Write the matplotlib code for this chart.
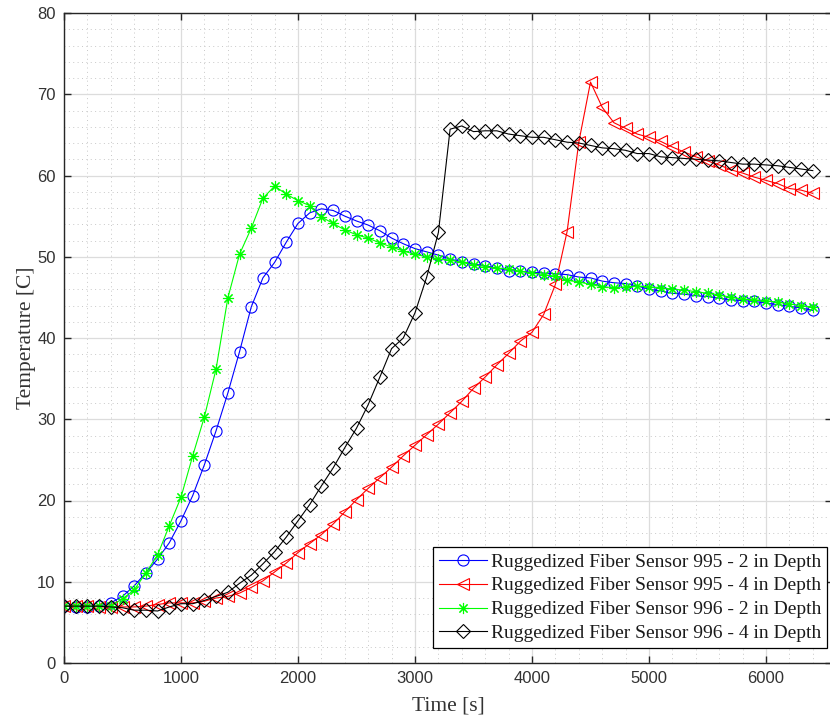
import numpy as np
import matplotlib
matplotlib.use("Agg")
from matplotlib import pyplot as plt
from matplotlib.ticker import MultipleLocator

# sample times, one reading every 100 s
time_s = np.arange(0, 6500, 100)

temp_995_2in = [7.0, 6.9, 6.9, 7.0, 7.4, 8.2, 9.5, 11.1, 12.8, 14.8, 17.5, 20.6, 24.4, 28.6, 33.2,
                38.3, 43.8, 47.4, 49.3, 51.8, 54.1, 55.4,
                55.9, 55.7, 55.0, 54.4, 53.9, 53.2, 52.3, 51.6, 51.0,
                50.6, 50.2, 49.7, 49.4, 49.1, 48.9, 48.6, 48.3, 48.2, 48.1,
                48.0, 47.9, 47.8, 47.5, 47.4, 47.0, 46.8, 46.7, 46.4, 46.0, 45.8, 45.5,
                45.4, 45.2, 45.1, 44.9, 44.7, 44.6, 44.5, 44.3, 44.1, 43.9, 43.7, 43.4]

temp_995_4in = [7.0, 7.0, 7.0, 6.9, 6.9, 6.9, 6.9, 7.0, 7.2, 7.4, 7.4, 7.4, 7.6, 8.0, 8.2,
                8.6, 9.3, 10.1, 11.2, 12.3, 13.6, 14.7, 15.8, 17.1, 18.6, 20.1, 21.5, 22.8,
                24.1, 25.5, 26.8,
                28.1, 29.4, 30.8, 32.2, 33.8, 35.2, 36.7, 38.1, 39.6, 40.7, 42.9, 46.6, 53.1, 64.1,
                71.5, 68.4, 66.5, 65.8, 65.1, 64.7, 64.2, 63.5, 62.9, 62.3, 61.8, 61.3, 60.7,
                60.3, 59.8, 59.4, 59.0, 58.4, 58.2, 57.8]

temp_996_2in = [7.0, 7.0, 7.0, 7.0, 7.0, 7.9, 9.0, 11.1, 13.3, 16.9, 20.4, 25.5, 30.3, 36.2, 44.9,
                50.3, 53.5, 57.2, 58.7, 57.7, 56.9, 56.3,
                54.9, 54.1, 53.3, 52.7, 52.3, 51.7, 51.2, 50.7, 50.3,
                50.0, 49.7, 49.6, 49.3, 49.0, 48.8, 48.6, 48.5, 48.2, 48.0,
                47.8, 47.6, 47.1, 46.9, 46.6, 46.3, 46.2, 46.3, 46.4, 46.3, 46.2, 46.0,
                45.9, 45.7, 45.5, 45.3, 45.0, 44.8, 44.7, 44.6, 44.4, 44.2, 44.0, 43.8]

temp_996_4in = [7.0, 7.0, 7.0, 7.0, 6.9, 6.8, 6.5, 6.5, 6.4, 6.9, 7.3, 7.3, 7.7, 8.2, 8.7,
                9.8, 10.8, 12.2, 13.7, 15.5, 17.5, 19.5, 21.8, 24.0, 26.5, 28.9, 31.8, 35.2,
                38.7, 40.0, 43.1, 47.5, 53.0,
                65.7, 66.1, 65.4, 65.5, 65.5, 65.1, 64.9, 64.7, 64.7, 64.4, 64.1, 64.0, 63.7,
                63.4, 63.3, 63.1, 62.7, 62.7, 62.3, 62.2, 62.1, 62.0, 61.9, 61.8, 61.6, 61.4,
                61.4, 61.3, 61.2, 61.0, 60.8, 60.6]

labels = ["Ruggedized Fiber Sensor 995 - 2 in Depth",
          "Ruggedized Fiber Sensor 995 - 4 in Depth",
          "Ruggedized Fiber Sensor 996 - 2 in Depth",
          "Ruggedized Fiber Sensor 996 - 4 in Depth"]
series = [temp_995_2in, temp_995_4in, temp_996_2in, temp_996_4in]
colors = ["#0000ff", "#ff0000", "#00ff00", "#000000"]
# (8, 2, 0) is an 8-spoke asterisk, like a + and an x laid over each other
markers = ["o", "<", (8, 2, 0), "D"]
msizes = [8, 8.5, 8, 7.2]

fig = plt.figure(figsize=(8.3, 7.21), dpi=100)
ax = fig.add_axes([64/830, 1 - 663/721, (832 - 64)/830, (663 - 13)/721])

for y, lab, c, m, ms in zip(series, labels, colors, markers, msizes):
    ax.plot(time_s, y, color=c, lw=0.8, marker=m, ms=ms, mfc="none",
            mec=c, mew=0.8, label=lab)

ax.set_xlim(0, (832 - 64)/0.117)
ax.set_ylim(0, 80)
ax.xaxis.set_major_locator(MultipleLocator(1000))
ax.xaxis.set_minor_locator(MultipleLocator(200))
ax.yaxis.set_major_locator(MultipleLocator(10))
ax.yaxis.set_minor_locator(MultipleLocator(2))

ax.grid(which="major", color="#dcdcdc", lw=0.9, ls="-")
ax.grid(which="minor", color="#c8c8c8", lw=0.7, ls=(0, (1, 3.5)))
ax.set_axisbelow(True)

dark = "#262626"
for s in ax.spines.values():
    s.set_color(dark)
    s.set_linewidth(1.0)
ax.tick_params(which="both", direction="in", top=True, right=True, color=dark)
ax.tick_params(which="major", length=5, width=1.0, labelsize=12, labelcolor="#333333", pad=6)
ax.tick_params(which="minor", length=0)
for t in ax.get_xticklabels() + ax.get_yticklabels():
    t.set_family("Liberation Sans")

ax.set_xlabel("Time [s]", family="Liberation Serif", fontsize=15.5, color="#333333", labelpad=7)
ax.set_ylabel("Temperature [C]", family="Liberation Serif", fontsize=15.5, color="#333333", labelpad=1)

leg = ax.legend(loc="lower right", bbox_to_anchor=(827/830, 1 - 648/721),
                bbox_transform=fig.transFigure, borderaxespad=0,
                prop={"family": "Liberation Serif", "size": 14},
                handlelength=2.45, handletextpad=0.2, labelspacing=0.32,
                borderpad=0.3, fancybox=False, framealpha=1, edgecolor="#000000")
leg.get_frame().set_linewidth(0.9)
for t in leg.get_texts():
    t.set_color("#1a1a1a")

fig.savefig("out.png", dpi=100)
